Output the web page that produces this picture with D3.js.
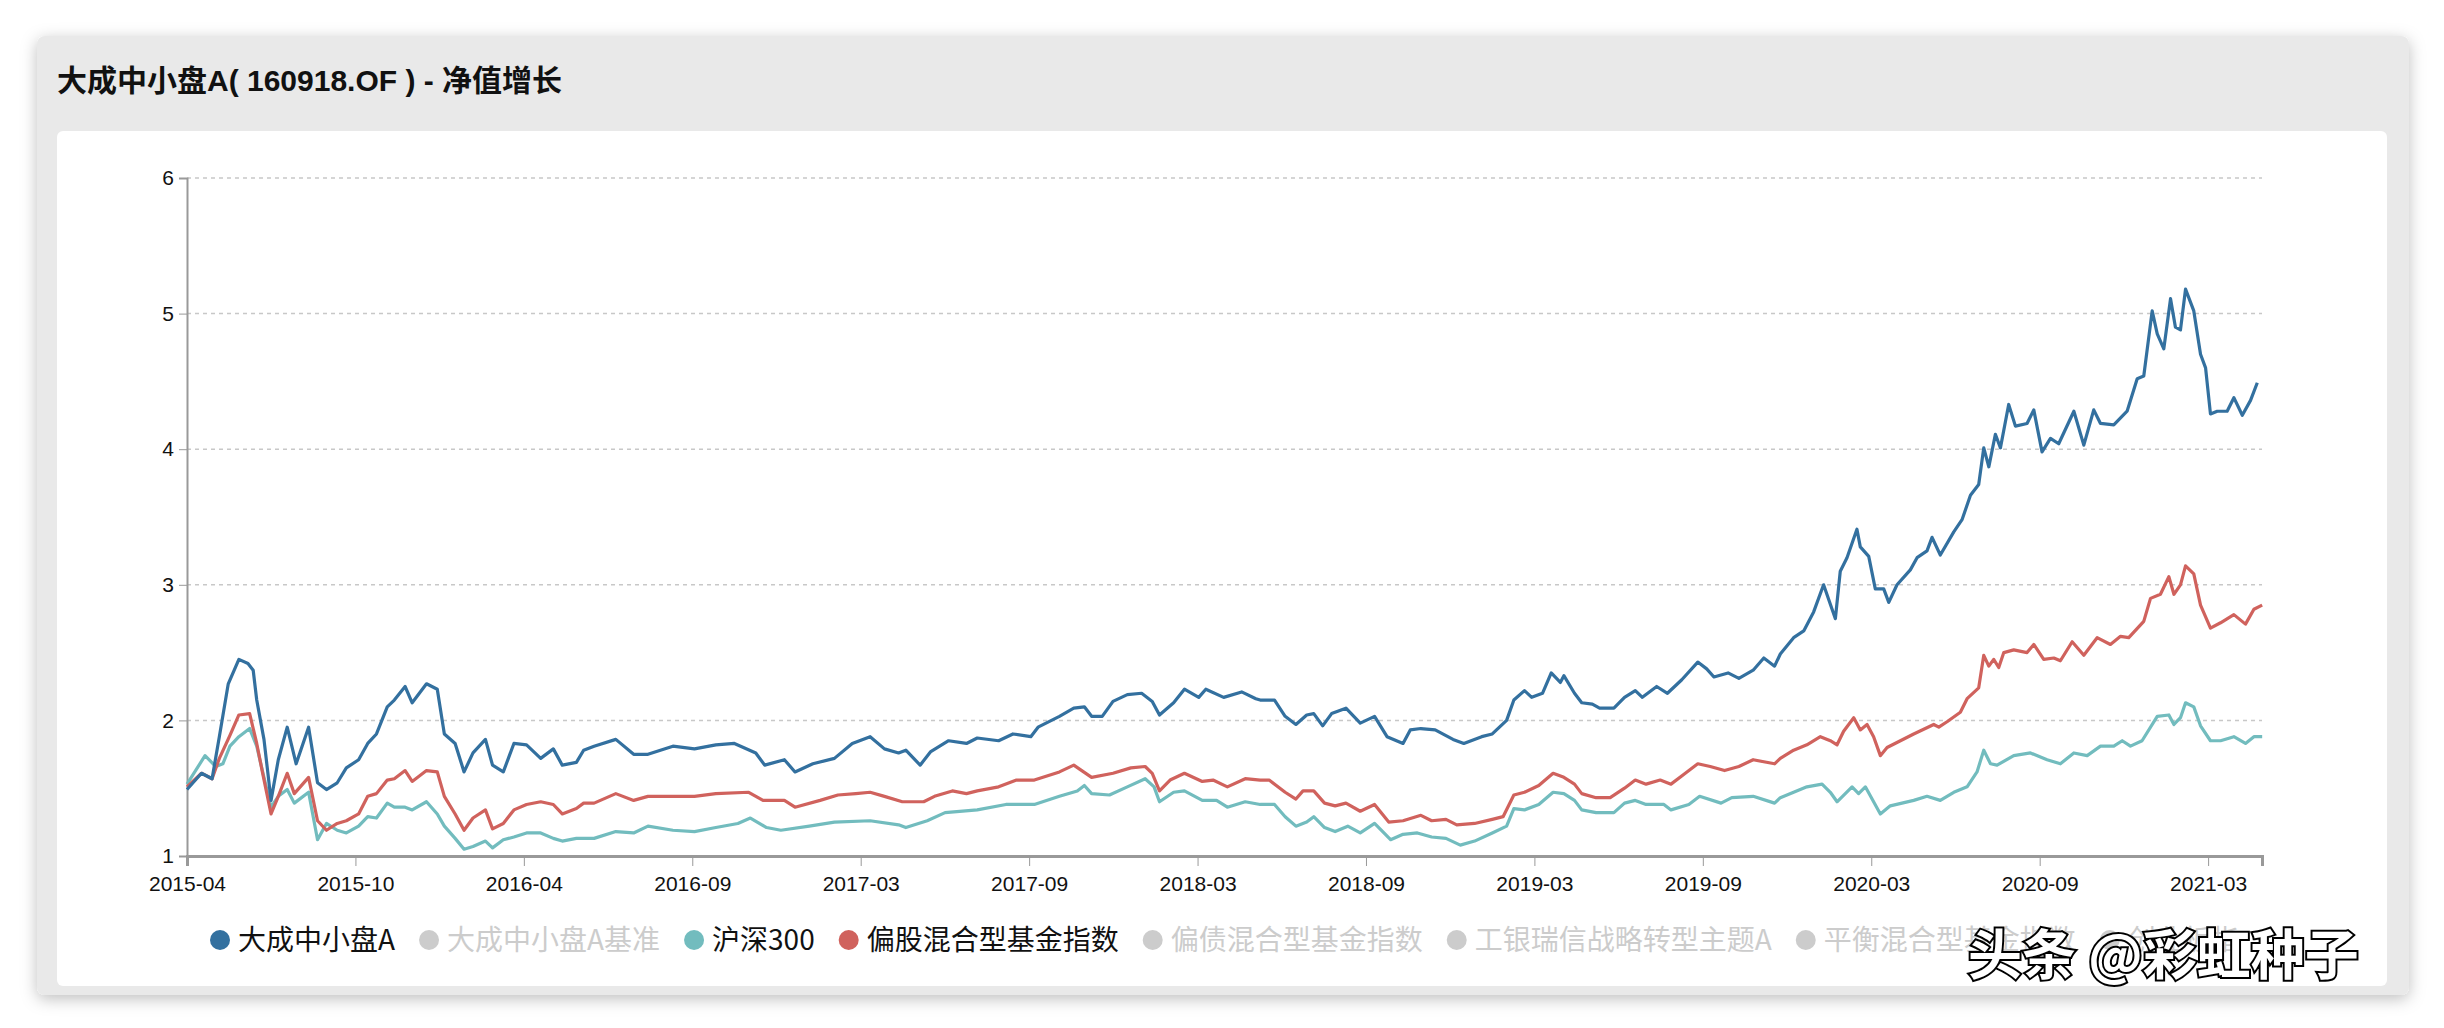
<!DOCTYPE html>
<html><head><meta charset="utf-8">
<script src="https://cdn.jsdelivr.net/npm/d3@7/dist/d3.min.js"></script>
<style>body{margin:0;background:#fff;}svg{display:block;font-family:"Liberation Sans","Noto Sans CJK SC",sans-serif;}</style>
</head><body><svg id="c" width="2444" height="1028"></svg>
<script>
const title = "大成中小盘A( 160918.OF ) - 净值增长";
const xTickLabels = ["2015-04","2015-10","2016-04","2016-09","2017-03","2017-09","2018-03","2018-09","2019-03","2019-09","2020-03","2020-09","2021-03"];
const yTicks = [1,2,3,4,5,6];
const legendNames = ["大成中小盘A","大成中小盘A基准","沪深300","偏股混合型基金指数","偏债混合型基金指数","工银瑞信战略转型主题A","平衡混合型基金指数","创业板指"];
const legendActive = [true,false,true,true,false,false,false,false];
const xMax = 12.32;

// positions in tick-interval units (0 = 2015-04)
const fundPos = [0,.086,.149,.192,.245,.308,.362,.393,.414,.457,.499,.542,.595,.648,.722,.775,.828,.892,.946,1.019,1.073,1.125,1.189,1.231,1.295,1.337,1.422,1.486,1.528,1.592,1.645,1.698,1.772,1.814,1.878,1.941,2.016,2.1,2.175,2.228,2.312,2.355,2.417,2.546,2.652,2.737,2.885,3.013,3.14,
3.25,3.377,3.43,3.547,3.61,3.716,3.844,3.95,4.056,4.141,4.225,4.268,4.353,4.416,4.522,4.628,4.692,4.819,4.904,5.01,5.053,5.18,5.265,5.328,5.371,5.434,5.498,5.583,5.668,5.731,5.774,5.858,5.922,6.007,6.049,6.155,6.262,6.346,
6.372,6.457,6.52,6.584,6.648,6.69,6.743,6.796,6.881,6.966,7.051,7.125,7.22,7.263,7.326,7.411,7.517,7.581,7.687,7.75,7.835,7.878,7.941,7.984,8.048,8.1,8.154,8.175,8.238,8.281,8.344,8.387,8.472,8.535,8.599,8.641,8.726,8.79,8.875,8.97,9.023,9.066,9.15,9.214,9.299,9.362,9.426,
9.46,9.539,9.599,9.658,9.717,9.787,9.816,9.856,9.915,9.935,9.985,10.024,10.074,10.104,10.153,10.232,10.272,10.331,10.361,10.41,10.49,10.539,10.589,10.638,10.668,10.698,10.737,10.767,10.816,10.856,10.925,10.965,11.014,11.064,11.113,11.203,11.262,11.321,11.361,11.44,11.519,11.579,11.618,11.668,11.698,11.737,11.777,11.806,11.836,11.866,11.915,11.955,11.985,12.014,12.054,12.113,12.153,12.203,12.252,12.292];
const fundVal = [1.49,1.61,1.57,1.88,2.27,2.45,2.42,2.37,2.15,1.86,1.41,1.71,1.95,1.68,1.95,1.54,1.49,1.54,1.65,1.71,1.83,1.90,2.10,2.15,2.25,2.13,2.27,2.23,1.90,1.83,1.62,1.76,1.86,1.67,1.62,1.83,1.82,1.72,1.79,1.67,1.69,1.78,1.81,1.86,1.75,1.75,1.81,1.79,1.82,
1.83,1.76,1.67,1.71,1.62,1.68,1.72,1.83,1.88,1.79,1.76,1.78,1.67,1.77,1.85,1.83,1.87,1.85,1.90,1.88,1.95,2.03,2.09,2.10,2.03,2.03,2.14,2.19,2.20,2.14,2.04,2.13,2.23,2.17,2.23,2.17,2.21,2.16,
2.15,2.15,2.03,1.97,2.04,2.05,1.96,2.05,2.09,1.98,2.03,1.88,1.83,1.93,1.94,1.93,1.86,1.83,1.88,1.90,2.00,2.15,2.22,2.17,2.20,2.35,2.28,2.33,2.20,2.13,2.12,2.09,2.09,2.17,2.22,2.17,2.25,2.20,2.30,2.43,2.38,2.32,2.35,2.31,2.37,2.46,2.40,
2.49,2.61,2.66,2.80,3.00,2.75,3.10,3.20,3.41,3.28,3.21,2.97,2.97,2.87,3.00,3.11,3.20,3.25,3.35,3.22,3.39,3.48,3.66,3.74,4.01,3.87,4.11,4.01,4.33,4.17,4.19,4.29,3.98,4.08,4.04,4.28,4.03,4.29,4.19,4.18,4.28,4.52,4.54,5.02,4.85,4.74,5.11,4.90,4.88,5.18,5.02,4.70,4.60,4.26,4.28,4.28,4.38,4.25,4.36,4.49];

const hs300Pos = [0,.107,.171,.213,.255,.308,.372,.414,.457,.499,.542,.595,.637,.722,.775,.828,.892,.946,1.019,1.073,1.125,1.189,1.231,1.295,1.337,1.422,1.486,1.528,1.592,1.645,1.698,1.772,1.814,1.878,1.941,2.016,2.1,2.175,2.228,2.312,2.417,2.546,2.652,2.737,2.885,3.013,3.14,
3.271,3.345,3.441,3.526,3.695,3.844,4.056,4.225,4.268,4.395,4.501,4.692,4.862,5.031,5.18,5.286,5.328,5.371,5.477,5.583,5.689,5.742,5.774,5.858,5.922,6.028,6.113,6.177,6.283,
6.372,6.457,6.52,6.584,6.648,6.69,6.754,6.817,6.892,6.966,7.051,7.146,7.22,7.305,7.39,7.475,7.56,7.645,7.75,7.835,7.878,7.941,8.026,8.111,8.175,8.238,8.281,8.366,8.472,8.535,8.599,8.663,8.769,8.811,8.917,8.981,9.108,9.172,9.299,9.426,
9.46,9.618,9.708,9.757,9.797,9.886,9.925,9.965,10.014,10.054,10.113,10.252,10.331,10.41,10.49,10.569,10.628,10.668,10.708,10.747,10.846,10.945,11.044,11.123,11.203,11.282,11.361,11.44,11.49,11.539,11.608,11.698,11.767,11.797,11.836,11.866,11.915,11.955,12.014,12.074,12.153,12.222,12.272,12.321];
const hs300Val = [1.53,1.74,1.66,1.68,1.81,1.88,1.94,1.81,1.58,1.36,1.44,1.49,1.39,1.47,1.12,1.24,1.19,1.17,1.22,1.29,1.28,1.39,1.36,1.36,1.34,1.40,1.31,1.22,1.13,1.05,1.07,1.11,1.06,1.12,1.14,1.17,1.17,1.13,1.11,1.13,1.13,1.18,1.17,1.22,1.19,1.18,1.21,
1.24,1.28,1.21,1.19,1.22,1.25,1.26,1.23,1.21,1.26,1.32,1.34,1.38,1.38,1.44,1.48,1.52,1.46,1.45,1.51,1.57,1.51,1.40,1.47,1.48,1.41,1.41,1.36,1.40,
1.38,1.38,1.29,1.22,1.25,1.29,1.21,1.18,1.22,1.17,1.24,1.12,1.16,1.17,1.14,1.13,1.08,1.11,1.17,1.22,1.35,1.34,1.38,1.47,1.46,1.41,1.34,1.32,1.32,1.39,1.41,1.38,1.38,1.34,1.38,1.44,1.39,1.43,1.44,1.39,
1.43,1.51,1.53,1.47,1.40,1.51,1.46,1.51,1.40,1.31,1.37,1.41,1.44,1.41,1.47,1.51,1.62,1.78,1.68,1.67,1.74,1.76,1.71,1.68,1.76,1.74,1.81,1.81,1.85,1.81,1.85,2.03,2.04,1.97,2.02,2.13,2.10,1.96,1.85,1.85,1.88,1.83,1.88,1.88];

const mixPos = [0,.086,.149,.192,.255,.308,.372,.414,.446,.499,.542,.595,.637,.722,.775,.828,.892,.946,1.019,1.073,1.125,1.189,1.231,1.295,1.337,1.422,1.486,1.528,1.592,1.645,1.698,1.772,1.814,1.878,1.941,2.016,2.1,2.175,2.228,2.312,2.355,2.417,2.546,2.652,2.737,2.885,3.013,3.14,
3.335,3.42,3.547,3.61,3.759,3.865,3.971,4.056,4.141,4.247,4.374,4.438,4.544,4.628,4.692,4.819,4.925,5.031,5.18,5.265,5.371,5.498,5.604,5.689,5.731,5.774,5.837,5.922,6.028,6.092,6.177,6.283,
6.372,6.425,6.52,6.584,6.626,6.69,6.754,6.817,6.881,6.966,7.051,7.135,7.22,7.326,7.39,7.475,7.539,7.645,7.75,7.814,7.878,7.941,8.026,8.111,8.175,8.238,8.281,8.366,8.45,8.535,8.599,8.663,8.747,8.811,8.896,8.97,9.044,9.129,9.214,9.299,9.426,
9.46,9.539,9.618,9.698,9.757,9.797,9.836,9.896,9.935,9.975,10.014,10.054,10.094,10.173,10.252,10.371,10.401,10.45,10.529,10.569,10.638,10.668,10.698,10.727,10.757,10.787,10.846,10.925,10.965,11.024,11.084,11.123,11.193,11.262,11.341,11.42,11.48,11.529,11.618,11.658,11.717,11.767,11.797,11.836,11.866,11.915,11.955,12.014,12.074,12.153,12.222,12.272,12.321];
const mixVal = [1.51,1.61,1.57,1.72,1.89,2.04,2.05,1.83,1.63,1.31,1.44,1.61,1.46,1.58,1.26,1.19,1.24,1.26,1.31,1.44,1.46,1.56,1.57,1.63,1.55,1.63,1.62,1.44,1.31,1.19,1.28,1.34,1.20,1.24,1.34,1.38,1.40,1.38,1.31,1.35,1.39,1.39,1.46,1.41,1.44,1.44,1.44,1.46,
1.47,1.41,1.41,1.36,1.41,1.45,1.46,1.47,1.44,1.40,1.40,1.44,1.48,1.46,1.48,1.51,1.56,1.56,1.62,1.67,1.58,1.61,1.65,1.66,1.61,1.48,1.56,1.61,1.55,1.56,1.51,1.57,
1.56,1.56,1.47,1.42,1.48,1.48,1.39,1.37,1.39,1.33,1.38,1.25,1.26,1.30,1.26,1.27,1.23,1.24,1.27,1.29,1.45,1.47,1.52,1.61,1.58,1.53,1.46,1.43,1.43,1.50,1.56,1.53,1.56,1.53,1.61,1.68,1.66,1.63,1.66,1.71,1.68,
1.72,1.78,1.82,1.88,1.85,1.82,1.92,2.02,1.93,1.97,1.88,1.74,1.80,1.85,1.90,1.97,1.95,1.99,2.06,2.16,2.24,2.48,2.40,2.45,2.39,2.50,2.52,2.50,2.56,2.45,2.46,2.44,2.58,2.48,2.61,2.56,2.62,2.61,2.73,2.90,2.93,3.06,2.93,3.00,3.14,3.08,2.85,2.68,2.72,2.78,2.71,2.82,2.85];

const colors = ["#33709f","#cccccc","#72bcbe","#d0625d","#cccccc","#cccccc","#cccccc","#cccccc"];

const svg = d3.select("#c");
const defs = svg.append("defs");
const f = defs.append("filter").attr("id","sh").attr("x","-5%").attr("y","-5%").attr("width","110%").attr("height","115%");
f.append("feDropShadow").attr("dx",0).attr("dy",4).attr("stdDeviation",8).attr("flood-color","#000").attr("flood-opacity",0.25);
svg.append("rect").attr("x",37).attr("y",36).attr("width",2372).attr("height",959).attr("rx",8).attr("fill","#e9e9e9").attr("filter","url(#sh)");
svg.append("text").attr("x",57).attr("y",91).attr("font-size",30).attr("font-weight","bold").attr("fill","#111").text(title);
svg.append("rect").attr("x",57).attr("y",131).attr("width",2330).attr("height",855).attr("rx",6).attr("fill","#fff");

const x = d3.scaleLinear().domain([0,xMax]).range([187,2262]);
const y = d3.scaleLinear().domain([1,6]).range([856,178]);

svg.append("g").selectAll("line").data(yTicks.filter(d=>d>1)).join("line")
  .attr("x1",187).attr("x2",2262).attr("y1",d=>y(d)).attr("y2",d=>y(d))
  .attr("stroke","#c8c8c8").attr("stroke-width",1.5).attr("stroke-dasharray","4,4");

const yAxis = svg.append("g").attr("transform","translate(187,0)")
  .call(d3.axisLeft(y).tickValues(yTicks).tickSize(8).tickFormat(d3.format("d")));
const xAxis = svg.append("g").attr("transform","translate(0,856)")
  .call(d3.axisBottom(x).tickValues(d3.range(xTickLabels.length)).tickSize(10).tickFormat(i=>xTickLabels[i]));
[yAxis,xAxis].forEach(a=>{a.selectAll("path,line").attr("stroke","#999");a.selectAll("text").attr("font-size",21).attr("fill","#111");a.select(".domain").attr("stroke-width",2);});
xAxis.select(".domain").attr("stroke-width",3);
xAxis.selectAll("text").attr("dy","1.05em");
yAxis.selectAll("text").attr("dx","-2");

const line = d3.line().x(d=>x(d[0])).y(d=>y(d[1]));
const series = [[hs300Pos,hs300Val,colors[2]],[mixPos,mixVal,colors[3]],[fundPos,fundVal,colors[0]]];
series.forEach(([p,v,c])=>{
  svg.append("path").datum(p.map((t,i)=>[t,v[i]])).attr("d",line).attr("fill","none")
    .attr("stroke",c).attr("stroke-width",3.2).attr("stroke-linejoin","round");
});

let lx = 210; const ly = 940;
legendNames.forEach((n,i)=>{
  const g = svg.append("g");
  g.append("circle").attr("cx",lx+10).attr("cy",ly).attr("r",10).attr("fill",colors[i]);
  const t = g.append("text").attr("x",lx+28).attr("y",ly+10).attr("font-size",28)
    .attr("font-family","Noto Sans CJK SC").attr("fill",legendActive[i]?"#111":"#ccc").text(n);
  lx += 28 + t.node().getComputedTextLength() + 24;
});

svg.append("text").attr("x",1968).attr("y",975).attr("font-size",54).attr("font-weight","bold")
  .attr("font-family","Noto Sans CJK SC").attr("fill","#fff").attr("stroke","#000").attr("stroke-width",4)
  .attr("paint-order","stroke").text("头条 @彩虹种子");
</script></body></html>
